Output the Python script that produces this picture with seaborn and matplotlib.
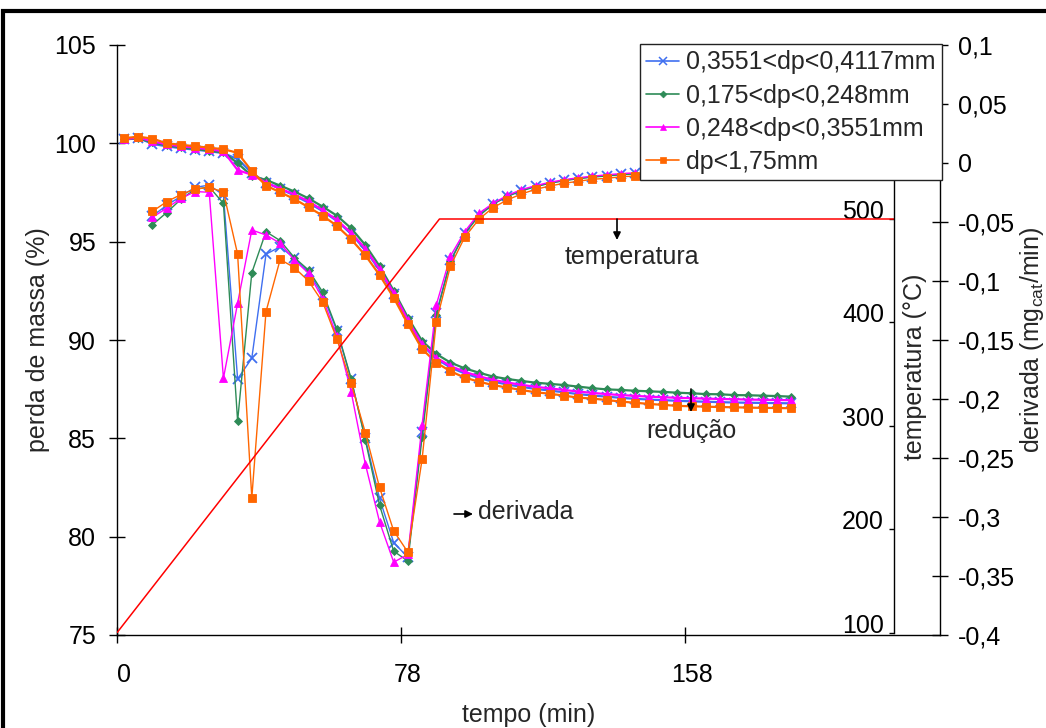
import numpy as np
import pandas as pd
import matplotlib
matplotlib.use("Agg")
import matplotlib.pyplot as plt
import seaborn as sns
from matplotlib.lines import Line2D
from matplotlib.patches import Rectangle
from matplotlib.ticker import FixedLocator, FixedFormatter, NullLocator

NA = np.nan

# ---------------- data ----------------
time_min = [0, 4, 8, 12, 16, 20, 24, 27, 31, 35, 39, 43, 47, 51, 55, 59, 63, 66, 70, 74,
            78, 82, 86, 90, 94, 98, 102, 106, 110, 114, 118, 122, 126, 130, 134, 138, 142, 146, 150, 154,
            158, 162, 166, 170, 174, 178, 182, 186, 190, 194, 198, 202, 206, 210, 214, 218, 222, 226]
time_label_idx = [0, 20, 40]

series_labels = ["0,3551<dp<0,4117mm", "0,175<dp<0,248mm", "0,248<dp<0,3551mm", "dp<1,75mm"]
series_colors = ["#3F6FF0", "#2E8B57", "#FF00FF", "#FF6600"]
series_markers = ["x", "D", "^", "s"]

# perda de massa (%)
mass_blue = [100.2, 100.28, 99.97, 99.85, 99.75, 99.68, 99.6, 99.5, 99.2, 98.5,
             98.0, 97.68, 97.35, 96.98, 96.55, 96.05, 95.4, 94.58, 93.55, 92.32,
             90.95, 89.75, 89.05, 88.6, 88.3, 88.07, 87.88, 87.74, 87.62, 87.51,
             87.43, 87.34, 87.25, 87.18, 87.12, 87.06, 87.01, 86.97, 86.94, 86.91,
             86.88, 86.86, 86.84, 86.82, 86.81, 86.8, 86.79, 86.78]
mass_green = [100.2, 100.25, 100.05, 99.9, 99.8, 99.72, 99.62, 99.55, 98.99, 98.34,
              98.14, 97.85, 97.55, 97.2, 96.78, 96.32, 95.68, 94.83, 93.76, 92.51,
              91.14, 89.95, 89.29, 88.85, 88.56, 88.34, 88.14, 88.02, 87.92, 87.83,
              87.77, 87.71, 87.63, 87.55, 87.49, 87.46, 87.42, 87.39, 87.36, 87.32,
              87.29, 87.25, 87.24, 87.2, 87.19, 87.17, 87.15, 87.12]
mass_pink = [100.2, 100.3, 100.1, 99.95, 99.85, 99.78, 99.7, 99.6, 98.64, 98.4,
             98.0, 97.7, 97.4, 97.05, 96.6, 96.1, 95.45, 94.65, 93.6, 92.4,
             91.0, 89.8, 89.1, 88.68, 88.38, 88.16, 87.97, 87.84, 87.72, 87.62,
             87.54, 87.46, 87.38, 87.31, 87.25, 87.2, 87.16, 87.12, 87.09, 87.06,
             87.04, 87.02, 87.0, 86.99, 86.97, 86.96, 86.95, 86.94]
mass_orange = [100.26, 100.34, 100.24, 100.0, 99.93, 99.85, 99.78, 99.7, 99.52, 98.59,
               97.85, 97.51, 97.17, 96.75, 96.32, 95.8, 95.12, 94.31, 93.31, 92.15,
               90.81, 89.54, 88.85, 88.41, 88.09, 87.88, 87.71, 87.58, 87.46, 87.34,
               87.27, 87.17, 87.07, 87.02, 86.95, 86.87, 86.81, 86.75, 86.7, 86.65,
               86.63, 86.61, 86.59, 86.58, 86.56, 86.55, 86.54, 86.53]

# derivada (mg_cat/min)
deriv_blue = [NA, NA,
              -0.0450, -0.0358, -0.0283, -0.0207, -0.0187, -0.0272, -0.1830, -0.1655,
              -0.0773, -0.0710, -0.0808, -0.0922, -0.1118, -0.1422, -0.1833, -0.2333,
              -0.2842, -0.3217, -0.3342, -0.2277, -0.1273, -0.0825, -0.0592, -0.0442,
              -0.0347, -0.0283, -0.0233, -0.0197, -0.0170, -0.0147, -0.0130, -0.0117,
              -0.0107, -0.0097, -0.0088] + [NA] * 11
deriv_green = [NA, NA,
               -0.0523, -0.0420, -0.0308, -0.0223, -0.0203, -0.0342, -0.2187, -0.0930,
               -0.0582, -0.0658, -0.0802, -0.0907, -0.1095, -0.1410, -0.1827, -0.2347,
               -0.2898, -0.3290, -0.3373, -0.2325, -0.1288, -0.0833, -0.0600, -0.0450,
               -0.0350, -0.0283, -0.0237, -0.0200, -0.0172, -0.0150, -0.0133, -0.0120,
               -0.0110, -0.0100, -0.0092] + [NA] * 11
deriv_pink = [NA, NA,
              -0.0460, -0.0383, -0.0300, -0.0242, -0.0248, -0.1825, -0.1188, -0.0568,
              -0.0610, -0.0680, -0.0822, -0.0935, -0.1150, -0.1467, -0.1938, -0.2550,
              -0.3040, -0.3383, -0.3317, -0.2220, -0.1203, -0.0788, -0.0582, -0.0427,
              -0.0342, -0.0275, -0.0225, -0.0192, -0.0163, -0.0142, -0.0125, -0.0112,
              -0.0100, -0.0090, -0.0083] + [NA] * 11
deriv_orange = [NA, NA,
                -0.0410, -0.0328, -0.0268, -0.0220, -0.0207, -0.0245, -0.0773, -0.2837,
                -0.1260, -0.0817, -0.0887, -0.1000, -0.1180, -0.1493, -0.1867, -0.2285,
                -0.2748, -0.3118, -0.3298, -0.2512, -0.1347, -0.0873, -0.0630, -0.0477,
                -0.0378, -0.0313, -0.0263, -0.0223, -0.0195, -0.0172, -0.0155, -0.0138,
                -0.0130, -0.0117, -0.0110] + [NA] * 11

# temperature programme
temp_time = [0, 83, 200]
temp_values = [100, 500, 500]

left_ticks = [75, 80, 85, 90, 95, 100, 105]
deriv_ticks = [-0.4, -0.35, -0.3, -0.25, -0.2, -0.15, -0.1, -0.05, 0, 0.05, 0.1]
temp_ticks = [100, 200, 300, 400, 500]

# ---------------- style ----------------
sns.set_theme(style="ticks")
FONT = ["Liberation Sans", "DejaVu Sans"]
plt.rcParams["font.family"] = FONT
plt.rcParams["mathtext.fontset"] = "custom"
plt.rcParams["mathtext.rm"] = "Liberation Sans"
plt.rcParams["mathtext.it"] = "Liberation Sans:italic"
plt.rcParams["axes.edgecolor"] = "black"
plt.rcParams["xtick.color"] = "black"
plt.rcParams["ytick.color"] = "black"
plt.rcParams["axes.linewidth"] = 1.0
FS = 18

W, H = 1046, 728
fig = plt.figure(figsize=(W / 100, H / 100), dpi=100)
fig.patch.set_facecolor("white")

def fx(px):
    return px / W

def fy(py):
    return 1 - py / H

ax_left, ax_right, ax_top, ax_bot = 117, 940, 45, 635
ax = fig.add_axes([fx(ax_left), fy(ax_bot), fx(ax_right - ax_left), (ax_bot - ax_top) / H])
ax_d = ax.twinx()

# long form data
masses = [mass_blue, mass_green, mass_pink, mass_orange]
derivs = [deriv_blue, deriv_green, deriv_pink, deriv_orange]
rows = []
for lab, m, d in zip(series_labels, masses, derivs):
    for i in range(len(m)):
        rows.append({"cat": i, "time": time_min[i], "series": lab, "mass": m[i], "deriv": d[i]})
df = pd.DataFrame(rows)

msizes = {"x": 6.5, "D": 4.3, "^": 5.6, "s": 5.2}
for lab, col, mk in zip(series_labels, series_colors, series_markers):
    sub = df[df["series"] == lab]
    mew = 1.3 if mk == "x" else 0.6
    sns.lineplot(data=sub, x="cat", y="mass", ax=ax, color=col, marker=mk,
                 markersize=msizes[mk], markeredgecolor=col, markeredgewidth=mew,
                 linewidth=1.6, legend=False, errorbar=None)
    sd = sub.dropna(subset=["deriv"])
    sns.lineplot(data=sd, x="cat", y="deriv", ax=ax_d, color=col, marker=mk,
                 markersize=msizes[mk], markeredgecolor=col, markeredgewidth=mew,
                 linewidth=1.0, legend=False, errorbar=None)

# main axis (x & left y)
ax.set_xlim(-0.5, len(time_min) - 0.5)
ax.set_ylim(75, 105)
ax.xaxis.set_major_locator(FixedLocator(time_label_idx))
ax.xaxis.set_major_formatter(FixedFormatter([str(time_min[i]) for i in time_label_idx]))
ax.xaxis.set_minor_locator(FixedLocator([i - 0.5 for i in time_label_idx]))
ax.tick_params(axis="x", which="major", length=0, pad=20, labelsize=FS)
ax.tick_params(axis="x", which="minor", direction="inout", length=11, width=1)
ax.set_yticks(left_ticks)
ax.yaxis.set_minor_locator(NullLocator())
ax.tick_params(axis="y", which="major", direction="inout", length=11, width=1, pad=9.5, labelsize=FS)
ax.set_xlabel("tempo (min)", fontsize=FS, labelpad=12)
ax.set_ylabel("perda de massa (%)", fontsize=FS)
ax.yaxis.set_label_coords(-0.081, 0.5)
ax.spines["top"].set_visible(False)
ax.spines["right"].set_visible(False)

# derivative axis (right)
ax_d.set_ylim(-0.4, 0.1)
ax_d.set_yticks(deriv_ticks)
ax_d.set_yticklabels([f"{v:g}".replace(".", ",") for v in deriv_ticks])
ax_d.yaxis.set_minor_locator(NullLocator())
ax_d.tick_params(axis="y", which="major", direction="inout", length=11, width=1, pad=7.5, labelsize=FS)
for s in ["top", "left", "bottom"]:
    ax_d.spines[s].set_visible(False)
ax_d.set_ylabel("derivada (mg$_{\\mathrm{cat}}$/min)", fontsize=FS)
ax_d.yaxis.set_label_coords(1.095, 0.5)

# temperature axis (overlay)
t_left, t_right, t_top, t_bot = 117, 894, 45, 632.7
ax_t = fig.add_axes([fx(t_left), fy(t_bot), fx(t_right - t_left), (t_bot - t_top) / H])
ax_t.patch.set_visible(False)
sns.lineplot(x=temp_time, y=temp_values, ax=ax_t, color="#FF0000", linewidth=1.1, legend=False, errorbar=None)
ax_t.set_xlim(0, 200)
px_per_deg = (632.7 - 219) / 400
ax_t.set_ylim(100, 100 + (t_bot - t_top) / px_per_deg)
ax_t.xaxis.set_visible(False)
for s in ["top", "right", "bottom"]:
    ax_t.spines[s].set_visible(False)
ax_t.spines["left"].set_position(("axes", 1.0))
ax_t.set_yticks(temp_ticks)
ax_t.set_yticklabels([str(v) for v in temp_ticks])
ax_t.yaxis.set_minor_locator(NullLocator())
ax_t.tick_params(axis="y", which="major", direction="out", length=3.6, width=1, pad=3.6, labelsize=FS)
for t in ax_t.yaxis.get_major_ticks():
    t.label1.set_verticalalignment("baseline")
ax_t.set_ylabel("temperatura (°C)", fontsize=FS)
ax_t.yaxis.set_label_coords(1.0425, 0.452)

# legend
handles = [Line2D([], [], color=c, marker=m, markersize=msizes[m] * 0.8,
                  markeredgecolor=c, markeredgewidth=(1.1 if m == "x" else 0.5), lw=1.2)
           for c, m in zip(series_colors, series_markers)]
leg = ax_t.legend(handles, series_labels, loc="upper right",
                  bbox_to_anchor=(fx(942), fy(44)), bbox_transform=fig.transFigure,
                  fontsize=FS, frameon=True, fancybox=False, framealpha=1,
                  edgecolor="#222222", borderpad=0.25, handlelength=1.3,
                  handletextpad=0.3, labelspacing=0.37, borderaxespad=0)
leg.get_frame().set_linewidth(1.0)
leg.set_zorder(20)

# annotations
def P(x, y):
    return (x, H - y)

arrow = dict(arrowstyle="-|>", color="black", lw=1.2, mutation_scale=11, shrinkA=0, shrinkB=0)
ax_t.annotate("", xy=P(617, 240), xytext=P(617, 219), xycoords="figure pixels",
              textcoords="figure pixels", arrowprops=arrow)
ax_t.annotate("temperatura", xy=P(632, 257), xycoords="figure pixels",
              ha="center", va="center", fontsize=FS)
ax_t.annotate("", xy=P(691, 412), xytext=P(691, 389), xycoords="figure pixels",
              textcoords="figure pixels", arrowprops=arrow)
ax_t.annotate("redução", xy=P(691, 431), xycoords="figure pixels",
              ha="center", va="center", fontsize=FS)
ax_t.annotate("", xy=P(473, 514), xytext=P(454, 514), xycoords="figure pixels",
              textcoords="figure pixels", arrowprops=arrow)
ax_t.annotate("derivada", xy=P(478, 512), xycoords="figure pixels",
              ha="left", va="center", fontsize=FS)

# outer chart frame
fig.patches.append(Rectangle((fx(2.5), -0.2), 1.5, fy(11) + 0.2, transform=fig.transFigure,
                             fill=False, edgecolor="black", linewidth=3, zorder=30))

fig.savefig("out.png", dpi=100)
